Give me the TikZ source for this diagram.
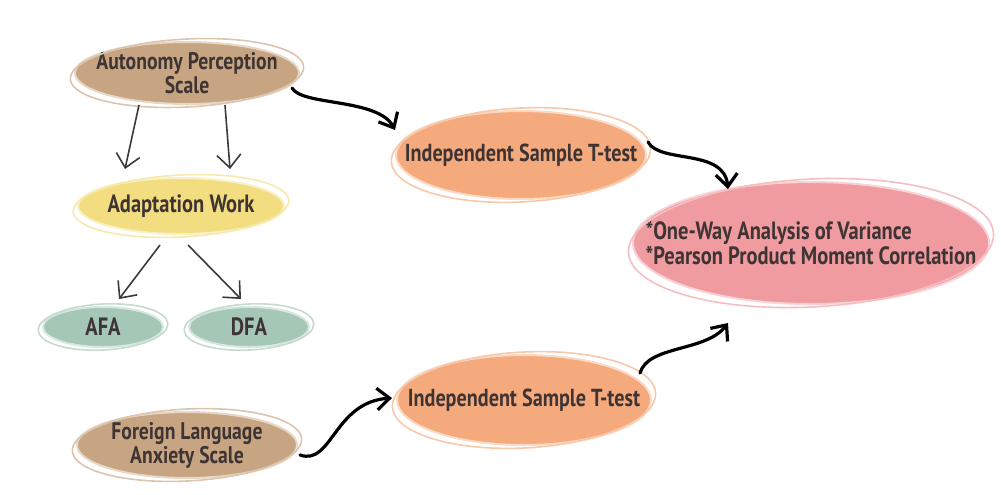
\documentclass[tikz,border=0pt]{standalone}
\usepackage{fontspec}
\newfontfamily\labelfont{PT Sans}[FakeStretch=0.82]
\usepackage{xcolor}
\usetikzlibrary{shapes.geometric,arrows.meta,calc}

\definecolor{tanfill}{HTML}{C8A582}
\definecolor{yellowfill}{HTML}{F2DD80}
\definecolor{sagefill}{HTML}{A5C8B6}
\definecolor{orangefill}{HTML}{F5AA7D}
\definecolor{pinkfill}{HTML}{F09BA0}
\definecolor{labeltext}{HTML}{3E3434}
\definecolor{greyarrow}{HTML}{3A3A3A}

\begin{document}
\begin{tikzpicture}[
  x=0.5pt, y=-0.5pt,
  font=\labelfont\bfseries,
  blob/.style={ellipse, inner sep=-80pt, align=center, text=labeltext,
    line width=1pt, font=\labelfont\bfseries\fontsize{12}{12}\selectfont},
  scalebox/.style={blob, fill=tanfill, draw=tanfill!45!white, minimum width=112pt, minimum height=31pt},
  workbox/.style={blob, fill=yellowfill, draw=yellowfill!45!white, minimum width=103pt, minimum height=28pt, font=\labelfont\bfseries\fontsize{12.5}{12}\selectfont},
  subbox/.style={blob, fill=sagefill, draw=sagefill!45!white, minimum width=60pt, minimum height=20pt, font=\labelfont\bfseries\fontsize{12.5}{12}\selectfont},
  ttestbox/.style={blob, fill=orangefill, draw=orangefill!45!white, minimum width=125pt, minimum height=44pt, font=\labelfont\bfseries\fontsize{12.3}{12}\selectfont},
  resultbox/.style={blob, fill=pinkfill, draw=pinkfill!45!white, minimum width=178pt, minimum height=61pt, align=left, font=\labelfont\bfseries\fontsize{12.5}{12.5}\selectfont},
  thinarr/.style={-{Straight Barb[length=2.3mm, width=4.2mm]}, greyarrow, line width=0.8pt},
  curvearr/.style={-{Straight Barb[length=2.2mm, width=3.8mm]}, black, line width=1.6pt, line cap=round}]

\useasboundingbox (0,0) rectangle (1001,494);

\node[scalebox] (aps) at (187,73) {Autonomy Perception\\Scale};
\node[workbox] (adapt) at (181,206) {Adaptation Work};
\node[subbox] (afa) at (103,327) {AFA};
\node[subbox] (dfa) at (249,327) {DFA};
\node[scalebox, minimum width=110pt, minimum height=33pt] (flas) at (187,445) {Foreign Language\\Anxiety Scale};
\node[ttestbox] (isttop) at (521,155) {Independent Sample T-test};
\node[ttestbox, minimum width=127pt, minimum height=45pt] (istbot) at (524,400) {Independent Sample T-test};
\node[resultbox] (anova) at (811,243) {*One-Way Analysis of Variance\\*Pearson Product Moment Correlation};

% sketchy second outline
\foreach \nd/\c in {aps/tanfill, adapt/yellowfill, afa/sagefill, dfa/sagefill, flas/tanfill, isttop/orangefill, istbot/orangefill, anova/pinkfill}
  \draw[draw=\c!65!white, line width=0.8pt, rotate around={3:(\nd.center)}]
    let \p1=($(\nd.east)-(\nd.center)$), \p2=($(\nd.north)-(\nd.center)$) in
    (\nd.center) ellipse [x radius=\x1+2pt, y radius=\y2+1pt];

\draw[thinarr] ([shift={(-48,32)}]aps.center) -- ([shift={(-56,-37)}]adapt.center);
\draw[thinarr] ([shift={(38,32)}]aps.center) -- ([shift={(49,-37)}]adapt.center);
\draw[thinarr] ([shift={(-21,39)}]adapt.center) -- ([shift={(16,-28)}]afa.center);
\draw[thinarr] ([shift={(7,39)}]adapt.center) -- ([shift={(-8,-28)}]dfa.center);

\draw[curvearr] ([shift={(105,15)}]aps.center) .. controls (302,106) and (378,98) .. ([shift={(-126,-25)}]isttop.center);
\draw[curvearr] ([shift={(127,-13)}]isttop.center) .. controls (660,164) and (724,148) .. ([shift={(-83,-54)}]anova.center);
\draw[curvearr] ([shift={(113,10)}]flas.center) .. controls (332,466) and (334,402) .. ([shift={(-132,-2)}]istbot.center);
\draw[curvearr] ([shift={(116,-27)}]istbot.center) .. controls (648,345) and (706,352) .. ([shift={(-83,80)}]anova.center);
\end{tikzpicture}
\end{document}
